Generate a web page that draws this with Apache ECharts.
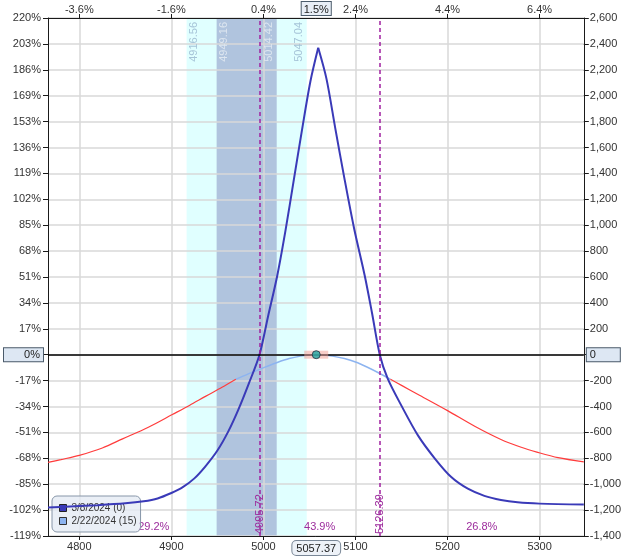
<!DOCTYPE html>
<html><head><meta charset="utf-8">
<script src="https://cdn.jsdelivr.net/npm/echarts@6/dist/echarts.min.js"></script>
<style>html,body{margin:0;padding:0;background:#fff}#c{width:624px;height:556px}</style>
</head><body><div id="c"></div>
<script>
// ---- data ----
const priceTicks = [4800, 4900, 5000, 5100, 5200, 5300];
const topTickLabels = ['-3.6%', '-1.6%', '0.4%', '2.4%', '4.4%', '6.4%'];
const pctTickLabels = ['-119%','-102%','-85%','-68%','-51%','-34%','-17%','0%','17%','34%','51%','68%','85%','102%','119%','136%','153%','169%','186%','203%','220%'];
const pnlMin = -1400, pnlMax = 2600, pnlStep = 200;
const xMin = 4766, xMax = 5348;
const currentPrice = 5057.37;
const currentPctLabel = '1.5%';
const seriesNames = ['3/8/2024 (0)', '2/22/2024 (15)'];
const expPnl = [[4766,-1180],[4790,-1172],[4820,-1162],[4850,-1148],[4870,-1132],[4885,-1110],[4900,-1068],[4912,-1025],[4925,-955],[4937,-862],[4950,-740],[4962,-590],[4973,-420],[4984,-225],[4995.72,0],[5005,295],[5015,610],[5024,960],[5033,1350],[5042,1740],[5051,2110],[5059.5,2370],[5068.5,2130],[5078,1750],[5088,1360],[5098.5,975],[5110,612],[5118,320],[5126.39,0],[5135,-185],[5150,-395],[5168,-625],[5186,-800],[5204,-945],[5222,-1035],[5240,-1090],[5258,-1122],[5276,-1140],[5300,-1150],[5348,-1157]];
const tPlusLeft = [[4766,-832],[4780,-810],[4800,-777],[4825,-720],[4847,-650],[4875,-560],[4901,-462],[4920,-390],[4937,-322],[4955,-252],[4970,-190]];
const tPlusMid = [[4970,-190],[4983,-150],[4995.72,-113],[5005,-87],[5015,-60],[5028,-30],[5040,-11],[5050,-2],[5057,0],[5065,-2],[5075,-11],[5088,-30],[5100,-56],[5113,-97],[5126.39,-145],[5138,-190]];
const tPlusRight = [[5138,-190],[5150,-237],[5170,-315],[5200,-432],[5230,-555],[5258,-655],[5280,-715],[5297,-752],[5320,-795],[5348,-828]];
const band1Sd = [4916.56, 5047.04];
const bandInner = [4949.16, 5014.42];
const breakevens = [4995.72, 5126.39];
const regionProbs = ['29.2%', '43.9%', '26.8%'];

// ---- chart ----
const FONT = '"Liberation Sans", Arial, sans-serif';
const purple = '#9c2c9c';
const peakIdx = expPnl.reduce((bi, p, i, a) => p[1] > a[bi][1] ? i : bi, 0);
const expLeft = expPnl.slice(0, peakIdx + 1);
const expRight = expPnl.slice(peakIdx);
const pctFor = v => pctTickLabels[Math.round((v - pnlMin) / pnlStep)];
const fmtPrice = v => v.toFixed(2);

const regionEdges = [xMin, breakevens[0], breakevens[1], xMax];

const chart = echarts.init(document.getElementById('c'), null, {renderer: 'canvas'});
const axisCol = '#1a1a1a';
const labelCol = '#333';
const clear = 'rgba(0,0,0,0)';
const option = {
  animation: false,
  textStyle: {fontFamily: FONT},
  grid: {left: 48, right: 37, top: 18, bottom: 18, containLabel: false},
  legend: {
    show: true, orient: 'vertical', left: 52, top: 496,
    selectedMode: false,
    backgroundColor: 'rgba(228,235,244,0.78)', borderColor: '#8796a8', borderWidth: 1, borderRadius: 5,
    padding: [7, 4, 6, 7], itemGap: 3, itemWidth: 7, itemHeight: 7,
    textStyle: {fontSize: 10, color: '#333', fontFamily: FONT},
    data: [
      {name: seriesNames[0], icon: 'rect', itemStyle: {color: '#3a3ab8', borderColor: '#222', borderWidth: 1}},
      {name: seriesNames[1], icon: 'rect', itemStyle: {color: '#8db4f0', borderColor: '#333', borderWidth: 1}}
    ]
  },
  xAxis: [
    {
      type: 'value', position: 'bottom', min: xMin, max: xMax,
      axisLine: {show: true, onZero: false, lineStyle: {color: axisCol, width: 1}},
      axisTick: {show: true, length: 4, customValues: priceTicks, lineStyle: {color: axisCol}},
      axisLabel: {
        customValues: priceTicks.concat([currentPrice]), margin: 5, color: labelCol, fontSize: 11,
        formatter: v => v === currentPrice ? '{cur|' + fmtPrice(v) + '}' : String(v),
        rich: {cur: {color: '#222', fontSize: 11, backgroundColor: '#eef2f8', borderColor: '#7a8797', borderWidth: 1, borderRadius: 4, padding: [2, 4, 1, 4]}}
      },
      splitLine: {show: true, lineStyle: {color: '#d9d9d9', width: 1.5}}
    },
    {
      type: 'value', position: 'top', min: xMin, max: xMax,
      axisLine: {show: true, onZero: false, lineStyle: {color: axisCol, width: 1}},
      axisTick: {show: true, length: 4, customValues: priceTicks, lineStyle: {color: axisCol}},
      axisLabel: {
        customValues: priceTicks.concat([currentPrice]), margin: 3, color: labelCol, fontSize: 11,
        formatter: v => v === currentPrice ? '{cur|' + currentPctLabel + '}' : topTickLabels[priceTicks.indexOf(v)],
        rich: {cur: {color: '#222', fontSize: 11, backgroundColor: '#e9eff7', borderColor: '#4c5c6c', borderWidth: 1, padding: [2, 2, 0, 2]}}
      },
      splitLine: {show: false}
    }
  ],
  yAxis: [
    {
      type: 'value', position: 'left', min: pnlMin, max: pnlMax, interval: pnlStep,
      axisLine: {show: true, onZero: false, lineStyle: {color: axisCol, width: 1}},
      axisTick: {show: true, length: 5, lineStyle: {color: axisCol}},
      axisLabel: {margin: 7, color: labelCol, fontSize: 11, formatter: v => v === 0 ? '' : pctFor(v)},
      splitLine: {show: true, lineStyle: {color: '#d9d9d9', width: 1.5}}
    },
    {
      type: 'value', position: 'right', min: pnlMin, max: pnlMax, interval: pnlStep,
      axisLine: {show: true, onZero: false, lineStyle: {color: axisCol, width: 1}},
      axisTick: {show: true, length: 5, lineStyle: {color: axisCol}},
      axisLabel: {margin: 6, color: labelCol, fontSize: 11, formatter: v => v === 0 ? '' : v.toLocaleString('en-US')},
      splitLine: {show: false}
    },
    {
      type: 'value', position: 'left', min: pnlMin, max: pnlMax,
      axisLine: {show: false}, axisTick: {show: false}, splitLine: {show: false},
      axisLabel: {customValues: [0], margin: 5, formatter: v => '{z|' + pctFor(v) + '}',
        rich: {z: {color: '#222', fontSize: 11, width: 36, align: 'right', backgroundColor: '#dde7f3', borderColor: '#4a5a6a', borderWidth: 1, padding: [1, 3, 0, 0], height: 12}}}
    },
    {
      type: 'value', position: 'right', min: pnlMin, max: pnlMax,
      axisLine: {show: false}, axisTick: {show: false}, splitLine: {show: false},
      axisLabel: {customValues: [0], margin: 3, formatter: v => '{z|' + String(v) + '}',
        rich: {z: {color: '#222', fontSize: 11, width: 30, align: 'left', backgroundColor: '#dde7f3', borderColor: '#4a5a6a', borderWidth: 1, padding: [1, 0, 0, 3], height: 12}}}
    }
  ],
  series: [
    {
      type: 'line', name: 'bands', data: [], z: -1, silent: true,
      markArea: {silent: true, z: -1, data: [
        [{xAxis: band1Sd[0], itemStyle: {color: '#e0ffff'}}, {xAxis: band1Sd[1]}],
        [{xAxis: bandInner[0], itemStyle: {color: '#b0c4de'}}, {xAxis: bandInner[1]}]
      ]}
    },
    {
      type: 'line', name: 'probs', data: [], silent: true,
      markArea: {silent: true, itemStyle: {color: clear},
        label: {show: true, position: 'insideBottom', distance: 4, color: purple, fontSize: 11, fontFamily: FONT},
        data: regionProbs.map((t, i) => [{name: t, xAxis: regionEdges[i]}, {xAxis: regionEdges[i + 1]}])
      }
    },
    {
      type: 'line', name: seriesNames[1], data: tPlusMid, showSymbol: false, smooth: 0.3, z: 3,
      lineStyle: {color: '#8db4f0', width: 1.5}, itemStyle: {color: '#8db4f0'}
    },
    {
      type: 'line', name: 'tplusL', data: tPlusLeft, showSymbol: false, smooth: 0.3, z: 3,
      lineStyle: {color: '#ff3c3c', width: 1.2}
    },
    {
      type: 'line', name: 'tplusR', data: tPlusRight, showSymbol: false, smooth: 0.3, z: 3,
      lineStyle: {color: '#ff3c3c', width: 1.2}
    },
    {
      type: 'line', name: seriesNames[0], data: expLeft, showSymbol: false, smooth: 0.3, z: 4,
      lineStyle: {color: '#3a3ab8', width: 2}, itemStyle: {color: '#3a3ab8'}
    },
    {
      type: 'line', name: seriesNames[0], data: expRight, showSymbol: false, smooth: 0.3, z: 4,
      lineStyle: {color: '#3a3ab8', width: 2}, itemStyle: {color: '#3a3ab8'}
    },
    {
      type: 'line', name: 'marks', data: [], silent: true, z: 5,
      markLine: {silent: true, symbol: 'none', animation: false, data: [
        {yAxis: 0, lineStyle: {color: '#000', width: 1.5, type: 'solid'}, label: {show: false}},
        ...breakevens.map(b => ({xAxis: b, lineStyle: {color: '#a020a0', width: 1.5, type: [4, 3]},
          label: {show: true, position: 'insideStart', distance: [2, 0], color: purple, fontSize: 11, formatter: fmtPrice(b)}})),
        {xAxis: band1Sd[0], lineStyle: {color: clear, width: 1}, label: {show: true, position: 'insideEndBottom', distance: [4, 2], color: '#a6c4d8', fontSize: 11, formatter: fmtPrice(band1Sd[0])}},
        {xAxis: bandInner[0], lineStyle: {color: clear, width: 1}, label: {show: true, position: 'insideEndBottom', distance: [4, 2], color: '#dde6f0', fontSize: 11, formatter: fmtPrice(bandInner[0])}},
        {xAxis: bandInner[1], lineStyle: {color: clear, width: 1}, label: {show: true, position: 'insideEndTop', distance: [4, 2], color: '#dde6f0', fontSize: 11, formatter: fmtPrice(bandInner[1])}},
        {xAxis: band1Sd[1], lineStyle: {color: clear, width: 1}, label: {show: true, position: 'insideEndTop', distance: [4, 2], color: '#a6c4d8', fontSize: 11, formatter: fmtPrice(band1Sd[1])}}
      ]}
    },
    {
      type: 'scatter', name: 'curRect', data: [[currentPrice, 0]], symbol: 'rect', symbolSize: [24, 8], z: 6, silent: true,
      itemStyle: {color: 'rgba(242,160,150,0.65)'}
    },
    {
      type: 'scatter', name: 'curDot', data: [[currentPrice, 0]], symbol: 'circle', symbolSize: 8, z: 7, silent: true,
      itemStyle: {color: '#1fa8a4', borderColor: '#243040', borderWidth: 1}
    }
  ]
};
chart.setOption(option);
</script>
</body></html>
